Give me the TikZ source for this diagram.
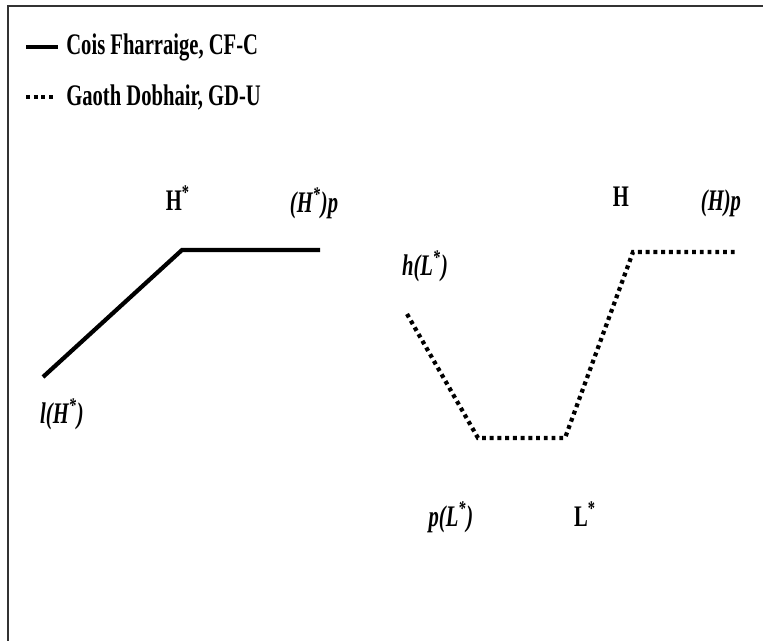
\documentclass[tikz,border=0pt]{standalone}
\usepackage{fontspec}
\setmainfont{Liberation Serif}
\newfontfamily\condfont[FakeStretch=0.69]{Liberation Serif}
\usetikzlibrary{positioning}
\tikzset{
  frameline/.style={line width=1.6pt,black!80},
  cfline/.style={line width=2.4pt,black},
  gdline/.style={line width=2.4pt,black,dash pattern=on 2.2pt off 2.2pt},
  legendtext/.style={font=\condfont\bfseries\fontsize{17}{17}\selectfont,anchor=west,inner sep=0pt},
  tonelbl/.style={font=\condfont\bfseries\fontsize{17}{17}\selectfont,inner sep=0pt},
  italbl/.style={tonelbl,font=\condfont\bfseries\itshape\fontsize{17}{17}\selectfont}
}
\begin{document}
\begin{tikzpicture}[x=0.02cm,y=-0.02cm]
  \useasboundingbox[fill=white] (0,0) rectangle (763,641);
  % Frame (top and left only)
  \draw[frameline] (763,6) -- (8,6) -- (8,641);
  % Legend
  \coordinate (cfa) at (26,47);
  \coordinate (cfb) at (58,47);
  \draw[cfline] (cfa) -- (cfb);
  \node[legendtext] (cfkey) at (66,47) {Cois Fharraige, CF-C};
  \coordinate (gda) at (26,97);
  \coordinate (gdb) at (54,97);
  \draw[gdline] (gda) -- (gdb);
  \node[legendtext] (gdkey) at (66,97) {Gaoth Dobhair, GD-U};
  % Cois Fharraige contour
  \coordinate (cf1) at (43,377);
  \coordinate (cf2) at (182,250);
  \coordinate (cf3) at (320,250);
  \draw[cfline] (cf1) -- (cf2) -- (cf3);
  \node[tonelbl] (hstar) at (178,198) {H\textsuperscript{*}};
  \node[italbl] (hstarp) at (314,203) {(H\textsuperscript{*})p};
  \node[italbl] (lhstar) at (62,414) {l(H\textsuperscript{*})};
  % Gaoth Dobhair contour
  \coordinate (gd1) at (407,314);
  \coordinate (gd2) at (478,438);
  \coordinate (gd3) at (565,438);
  \coordinate (gd4) at (633,252);
  \coordinate (gd5) at (737,252);
  \draw[gdline] (gd1) -- (gd2) -- (gd3) -- (gd4) -- (gd5);
  \node[italbl] (hlstar) at (425,266) {h(L\textsuperscript{*})};
  \node[tonelbl] (hhigh) at (621,197) {H};
  \node[italbl] (hhighp) at (721,203) {(H)p};
  \node[italbl] (plstar) at (451,517) {p(L\textsuperscript{*})};
  \node[tonelbl] (lstar) at (585,514) {L\textsuperscript{*}};
\end{tikzpicture}
\end{document}
